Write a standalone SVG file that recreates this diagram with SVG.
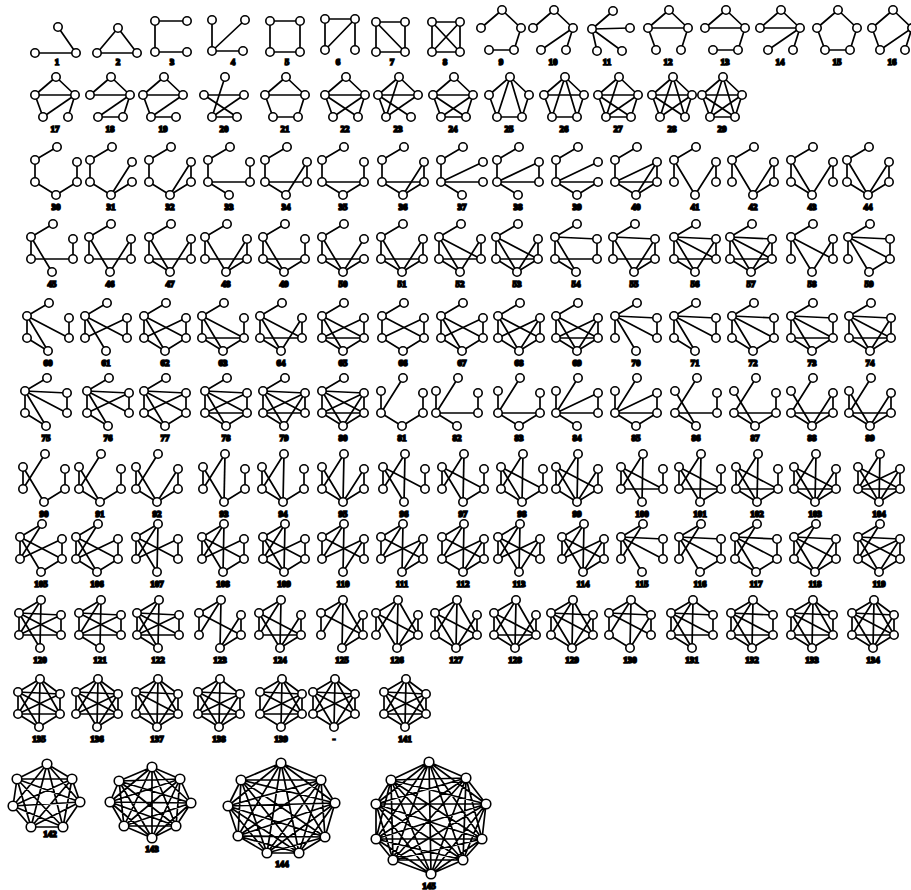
<svg xmlns="http://www.w3.org/2000/svg" xmlns:xlink="http://www.w3.org/1999/xlink" width="911" height="890" viewBox="0 0 911 890">
<style>
.e{stroke:#000;stroke-width:1.7;stroke-linecap:round;stroke-linejoin:round;fill:none}
.v{fill:#fff;stroke:#000;stroke-width:1.6}
text{font-family:"Liberation Serif",serif;font-size:9px;font-weight:bold;text-anchor:middle;fill:#000}
</style>
<rect width="911" height="890" fill="#fff"/>
<defs>
<path id="ta" d="M1 -60L-21 -47"/><path id="tb" d="M1 -60L21 -45"/><path id="tc" d="M1 -60L-21 -25"/><path id="td" d="M1 -60L21 -25"/><path id="te" d="M1 -60L0 -12"/>
<path id="ab" d="M-21 -47L21 -45"/><path id="ac" d="M-21 -47L-21 -25"/><path id="ad" d="M-21 -47L21 -25"/><path id="ae" d="M-21 -47L0 -12"/>
<path id="bc" d="M21 -45L-21 -25"/><path id="bd" d="M21 -45L21 -25"/><path id="be" d="M21 -45L0 -12"/>
<path id="cd" d="M-21 -25L21 -25"/><path id="ce" d="M-21 -25L0 -12"/><path id="de" d="M21 -25L0 -12"/>
<path id="ftl" d="M1 -52L-20 -34"/><path id="ftr" d="M1 -52L20 -34"/><path id="ftp" d="M1 -52L-12 -12"/><path id="ftq" d="M1 -52L13 -12"/>
<path id="flr" d="M-20 -34L20 -34"/><path id="flp" d="M-20 -34L-12 -12"/><path id="flq" d="M-20 -34L13 -12"/>
<path id="frp" d="M20 -34L-12 -12"/><path id="frq" d="M20 -34L13 -12"/><path id="fpq" d="M-12 -12L13 -12"/>
<g id="n6"><circle cx="1" cy="-60" r="4.2"/><circle cx="-21" cy="-47" r="4.2"/><circle cx="21" cy="-45" r="4.2"/><circle cx="-21" cy="-25" r="4.2"/><circle cx="21" cy="-25" r="4.2"/><circle cx="0" cy="-12" r="4.2"/></g>
<g id="n5"><circle cx="1" cy="-52" r="4.2"/><circle cx="-20" cy="-34" r="4.2"/><circle cx="20" cy="-34" r="4.2"/><circle cx="-12" cy="-12" r="4.2"/><circle cx="13" cy="-12" r="4.2"/></g>
</defs>

<g id="connectors" class="e">
<path d="M35 53L76 53M58 27L76 53"/>
<path d="M97 53L118 28L137 53Z"/>
<path d="M187 21L155 21L155 52L187 52"/>
<path d="M212 20L212 51L245 20M212 51L243 51"/>
<path d="M270 21L300 21L300 52L270 52Z"/>
<path d="M325 50L325 19L355 19L325 50M355 19L355 50"/>
<path d="M376 22L405 22L405 52L376 52ZM376 22L405 52"/>
<path d="M432 22L460 22L460 52L432 52ZM432 22L460 52M460 22L432 52"/>
<path d="M592 29L613 11M592 29L630 28M592 29L597 51M592 29L622 51"/>
<g transform="translate(501 62)"><use href="#ftl"/><use href="#ftr"/><use href="#frq"/><use href="#fpq"/></g>
<g transform="translate(553 62)"><use href="#ftl"/><use href="#ftr"/><use href="#frp"/><use href="#frq"/></g>
<g transform="translate(668 62)"><use href="#ftl"/><use href="#ftr"/><use href="#flr"/><use href="#flp"/><use href="#frq"/></g>
<g transform="translate(725 62)"><use href="#ftl"/><use href="#ftr"/><use href="#flr"/><use href="#frq"/><use href="#fpq"/></g>
<g transform="translate(780 62)"><use href="#ftl"/><use href="#ftr"/><use href="#flr"/><use href="#frp"/><use href="#frq"/></g>
<g transform="translate(837 62)"><use href="#ftl"/><use href="#ftr"/><use href="#flp"/><use href="#frq"/><use href="#fpq"/></g>
<g transform="translate(892 62)"><use href="#ftl"/><use href="#ftr"/><use href="#flp"/><use href="#frp"/><use href="#frq"/></g>
<g transform="translate(55 129)"><use href="#ftl"/><use href="#ftr"/><use href="#flr"/><use href="#flp"/><use href="#frp"/><use href="#frq"/></g>
<g transform="translate(110 129)"><use href="#ftl"/><use href="#ftr"/><use href="#flr"/><use href="#frp"/><use href="#frq"/><use href="#fpq"/></g>
<g transform="translate(163 129)"><use href="#ftl"/><use href="#ftr"/><use href="#flr"/><use href="#flp"/><use href="#frp"/><use href="#fpq"/></g>
<g transform="translate(224 129)"><use href="#ftp"/><use href="#flr"/><use href="#flq"/><use href="#frp"/><use href="#fpq"/></g>
<g transform="translate(285 129)"><use href="#ftl"/><use href="#ftr"/><use href="#flr"/><use href="#flp"/><use href="#frq"/><use href="#fpq"/></g>
<g transform="translate(345 129)"><use href="#ftl"/><use href="#ftr"/><use href="#flr"/><use href="#flp"/><use href="#flq"/><use href="#frp"/><use href="#frq"/></g>
<g transform="translate(398 129)"><use href="#ftl"/><use href="#ftr"/><use href="#flr"/><use href="#flq"/><use href="#frp"/><use href="#ftp"/><use href="#flp"/></g>
<g transform="translate(453 129)"><use href="#ftl"/><use href="#ftr"/><use href="#flr"/><use href="#flp"/><use href="#flq"/><use href="#frp"/><use href="#frq"/><use href="#fpq"/></g>
<g transform="translate(509 129)"><use href="#ftl"/><use href="#ftr"/><use href="#ftp"/><use href="#ftq"/><use href="#flp"/><use href="#frq"/><use href="#fpq"/></g>
<g transform="translate(564 129)"><use href="#ftl"/><use href="#ftr"/><use href="#flr"/><use href="#flp"/><use href="#frq"/><use href="#fpq"/><use href="#ftp"/><use href="#ftq"/></g>
<g transform="translate(618 129)"><use href="#ftl"/><use href="#ftr"/><use href="#flr"/><use href="#flp"/><use href="#frq"/><use href="#fpq"/><use href="#flq"/><use href="#frp"/><use href="#ftp"/></g>
<g transform="translate(672 129)"><use href="#ftl"/><use href="#ftr"/><use href="#flr"/><use href="#flp"/><use href="#frq"/><use href="#flq"/><use href="#frp"/><use href="#ftp"/><use href="#ftq"/></g>
<g transform="translate(722 129)"><use href="#ftl"/><use href="#ftr"/><use href="#ftp"/><use href="#ftq"/><use href="#flr"/><use href="#flp"/><use href="#flq"/><use href="#frp"/><use href="#frq"/><use href="#fpq"/></g>

<g transform="translate(56 207)"><use href="#ta"/><use href="#ac"/><use href="#ce"/><use href="#de"/><use href="#bd"/></g>
<g transform="translate(111 207)"><use href="#ta"/><use href="#ac"/><use href="#ce"/><use href="#be"/><use href="#de"/></g>
<g transform="translate(170 207)"><use href="#ta"/><use href="#ac"/><use href="#ce"/><use href="#be"/><use href="#bd"/><use href="#de"/></g>
<g transform="translate(229 207)"><use href="#ta"/><use href="#ac"/><use href="#cd"/><use href="#ce"/><use href="#bd"/></g>
<g transform="translate(286 207)"><use href="#ta"/><use href="#ac"/><use href="#cd"/><use href="#ce"/><use href="#be"/><use href="#bd"/></g>
<g transform="translate(343 207)"><use href="#ta"/><use href="#ac"/><use href="#cd"/><use href="#ce"/><use href="#de"/><use href="#bd"/></g>
<g transform="translate(403 207)"><use href="#ta"/><use href="#ac"/><use href="#cd"/><use href="#ce"/><use href="#de"/><use href="#be"/><use href="#bd"/></g>
<g transform="translate(462 207)"><use href="#ta"/><use href="#ac"/><use href="#bc"/><use href="#cd"/><use href="#ce"/></g>
<g transform="translate(518 207)"><use href="#ta"/><use href="#ac"/><use href="#bc"/><use href="#cd"/><use href="#ce"/><use href="#bd"/></g>
<g transform="translate(577 207)"><use href="#ta"/><use href="#ac"/><use href="#bc"/><use href="#cd"/><use href="#ce"/><use href="#de"/></g>
<g transform="translate(636 207)"><use href="#ta"/><use href="#ac"/><use href="#bc"/><use href="#cd"/><use href="#ce"/><use href="#de"/><use href="#be"/><use href="#bd"/></g>
<g transform="translate(695 207)"><use href="#ta"/><use href="#ac"/><use href="#ae"/><use href="#be"/><use href="#bd"/></g>
<g transform="translate(753 207)"><use href="#ta"/><use href="#ac"/><use href="#ae"/><use href="#be"/><use href="#bd"/><use href="#de"/></g>
<g transform="translate(812 207)"><use href="#ta"/><use href="#ac"/><use href="#ae"/><use href="#ce"/><use href="#be"/><use href="#bd"/></g>
<g transform="translate(868 207)"><use href="#ta"/><use href="#ac"/><use href="#ae"/><use href="#ce"/><use href="#be"/><use href="#bd"/><use href="#de"/></g>

<g transform="translate(52 284)"><use href="#ta"/><use href="#ac"/><use href="#ae"/><use href="#cd"/><use href="#bd"/></g>
<g transform="translate(110 284)"><use href="#ta"/><use href="#ac"/><use href="#ae"/><use href="#cd"/><use href="#be"/><use href="#bd"/></g>
<g transform="translate(170 284)"><use href="#ta"/><use href="#ac"/><use href="#ae"/><use href="#cd"/><use href="#be"/><use href="#bd"/><use href="#ce"/></g>
<g transform="translate(226 284)"><use href="#ta"/><use href="#ac"/><use href="#ae"/><use href="#cd"/><use href="#be"/><use href="#bd"/><use href="#de"/></g>
<g transform="translate(284 284)"><use href="#ta"/><use href="#ac"/><use href="#ae"/><use href="#cd"/><use href="#ce"/><use href="#de"/><use href="#bd"/></g>
<g transform="translate(343 284)"><use href="#ta"/><use href="#ac"/><use href="#ae"/><use href="#cd"/><use href="#ce"/><use href="#de"/><use href="#be"/></g>
<g transform="translate(402 284)"><use href="#ta"/><use href="#ac"/><use href="#ae"/><use href="#cd"/><use href="#ce"/><use href="#de"/><use href="#be"/><use href="#bd"/></g>
<g transform="translate(460 284)"><use href="#ta"/><use href="#ac"/><use href="#ae"/><use href="#ad"/><use href="#cd"/><use href="#be"/><use href="#bd"/><use href="#ce"/></g>
<g transform="translate(517 284)"><use href="#ta"/><use href="#ac"/><use href="#ae"/><use href="#ad"/><use href="#cd"/><use href="#be"/><use href="#bd"/><use href="#ce"/><use href="#de"/></g>
<g transform="translate(576 284)"><use href="#ta"/><use href="#ac"/><use href="#ab"/><use href="#ae"/><use href="#cd"/><use href="#ce"/><use href="#bd"/></g>
<g transform="translate(634 284)"><use href="#ta"/><use href="#ac"/><use href="#ab"/><use href="#ae"/><use href="#cd"/><use href="#de"/><use href="#bd"/><use href="#be"/></g>
<g transform="translate(695 284)"><use href="#ta"/><use href="#ac"/><use href="#ab"/><use href="#ae"/><use href="#ad"/><use href="#cd"/><use href="#ce"/><use href="#bd"/><use href="#be"/></g>
<g transform="translate(751 284)"><use href="#ta"/><use href="#ac"/><use href="#ab"/><use href="#ae"/><use href="#ad"/><use href="#cd"/><use href="#ce"/><use href="#de"/><use href="#bd"/><use href="#be"/></g>
<g transform="translate(812 284)"><use href="#ta"/><use href="#ae"/><use href="#ad"/><use href="#bd"/><use href="#be"/><use href="#ac"/></g>
<g transform="translate(869 284)"><use href="#ta"/><use href="#ae"/><use href="#ad"/><use href="#ab"/><use href="#bd"/><use href="#de"/><use href="#ac"/></g>

<g transform="translate(48 363)"><use href="#ta"/><use href="#ac"/><use href="#ae"/><use href="#ad"/><use href="#bd"/><use href="#ce"/></g>
<g transform="translate(106 363)"><use href="#ta"/><use href="#ac"/><use href="#ae"/><use href="#ad"/><use href="#bc"/><use href="#bd"/></g>
<g transform="translate(165 363)"><use href="#ta"/><use href="#ac"/><use href="#ae"/><use href="#ad"/><use href="#bc"/><use href="#bd"/><use href="#ce"/><use href="#de"/></g>
<g transform="translate(223 363)"><use href="#ta"/><use href="#ac"/><use href="#ae"/><use href="#ad"/><use href="#cd"/><use href="#ce"/><use href="#de"/><use href="#bd"/></g>
<g transform="translate(281 363)"><use href="#ta"/><use href="#ac"/><use href="#ae"/><use href="#ad"/><use href="#cd"/><use href="#ce"/><use href="#bd"/><use href="#be"/></g>
<g transform="translate(343 363)"><use href="#ta"/><use href="#ac"/><use href="#ae"/><use href="#ad"/><use href="#cd"/><use href="#bc"/><use href="#bd"/><use href="#ce"/><use href="#de"/></g>
<g transform="translate(403 363)"><use href="#ta"/><use href="#ac"/><use href="#ad"/><use href="#bc"/><use href="#ce"/><use href="#de"/><use href="#bd"/></g>
<g transform="translate(462 363)"><use href="#ta"/><use href="#ac"/><use href="#ad"/><use href="#bc"/><use href="#ce"/><use href="#de"/><use href="#bd"/><use href="#ae"/></g>
<g transform="translate(519 363)"><use href="#ta"/><use href="#ac"/><use href="#ad"/><use href="#ae"/><use href="#bc"/><use href="#be"/><use href="#ce"/><use href="#de"/><use href="#bd"/></g>
<g transform="translate(577 363)"><use href="#ta"/><use href="#ac"/><use href="#ad"/><use href="#ae"/><use href="#bc"/><use href="#be"/><use href="#ce"/><use href="#de"/><use href="#bd"/><use href="#cd"/></g>
<g transform="translate(636 363)"><use href="#ta"/><use href="#ab"/><use href="#ac"/><use href="#ad"/><use href="#ae"/><use href="#bd"/></g>
<g transform="translate(695 363)"><use href="#ta"/><use href="#ab"/><use href="#ac"/><use href="#ad"/><use href="#ae"/><use href="#bd"/><use href="#ce"/></g>
<g transform="translate(753 363)"><use href="#ta"/><use href="#ab"/><use href="#ac"/><use href="#ad"/><use href="#ae"/><use href="#bd"/><use href="#ce"/><use href="#de"/></g>
<g transform="translate(812 363)"><use href="#ta"/><use href="#ab"/><use href="#ac"/><use href="#ad"/><use href="#ae"/><use href="#bd"/><use href="#de"/><use href="#ce"/><use href="#cd"/></g>
<g transform="translate(870 363)"><use href="#ta"/><use href="#ab"/><use href="#ac"/><use href="#ad"/><use href="#ae"/><use href="#bd"/><use href="#ce"/><use href="#de"/><use href="#cd"/><use href="#be"/></g>

<g transform="translate(46 438)"><use href="#ta"/><use href="#ab"/><use href="#ac"/><use href="#ad"/><use href="#ae"/><use href="#bd"/><use href="#ce"/></g>
<g transform="translate(108 438)"><use href="#ta"/><use href="#ab"/><use href="#ac"/><use href="#ad"/><use href="#ae"/><use href="#bd"/><use href="#bc"/><use href="#ce"/></g>
<g transform="translate(165 438)"><use href="#ta"/><use href="#ab"/><use href="#ac"/><use href="#ad"/><use href="#ae"/><use href="#bd"/><use href="#bc"/><use href="#ce"/><use href="#de"/></g>
<g transform="translate(226 438)"><use href="#ta"/><use href="#ab"/><use href="#ac"/><use href="#ad"/><use href="#ae"/><use href="#bd"/><use href="#bc"/><use href="#cd"/><use href="#ce"/><use href="#de"/></g>
<g transform="translate(284 438)"><use href="#ta"/><use href="#ab"/><use href="#ac"/><use href="#ad"/><use href="#ae"/><use href="#bd"/><use href="#bc"/><use href="#cd"/><use href="#ce"/><use href="#be"/></g>
<g transform="translate(343 438)"><use href="#ta"/><use href="#ab"/><use href="#ac"/><use href="#ad"/><use href="#ae"/><use href="#bd"/><use href="#bc"/><use href="#cd"/><use href="#ce"/><use href="#de"/><use href="#be"/></g>
<g transform="translate(402 438)"><use href="#tc"/><use href="#ac"/><use href="#ce"/><use href="#bd"/><use href="#de"/></g>
<g transform="translate(457 438)"><use href="#tc"/><use href="#ac"/><use href="#cd"/><use href="#ce"/><use href="#bd"/></g>
<g transform="translate(519 438)"><use href="#tc"/><use href="#ac"/><use href="#cd"/><use href="#ce"/><use href="#bd"/><use href="#de"/></g>
<g transform="translate(577 438)"><use href="#tc"/><use href="#ac"/><use href="#cd"/><use href="#ce"/><use href="#bd"/><use href="#bc"/></g>
<g transform="translate(636 438)"><use href="#tc"/><use href="#ac"/><use href="#cd"/><use href="#ce"/><use href="#bd"/><use href="#bc"/><use href="#de"/></g>
<g transform="translate(696 438)"><use href="#tc"/><use href="#ae"/><use href="#cd"/><use href="#bd"/><use href="#ce"/></g>
<g transform="translate(755 438)"><use href="#tc"/><use href="#ae"/><use href="#cd"/><use href="#bd"/><use href="#ce"/><use href="#de"/></g>
<g transform="translate(812 438)"><use href="#tc"/><use href="#ae"/><use href="#cd"/><use href="#bd"/><use href="#ce"/><use href="#de"/><use href="#be"/></g>
<g transform="translate(870 438)"><use href="#tc"/><use href="#ae"/><use href="#ac"/><use href="#cd"/><use href="#bd"/><use href="#ce"/><use href="#de"/><use href="#be"/></g>

<g transform="translate(44 514)"><use href="#tc"/><use href="#ae"/><use href="#ac"/><use href="#bd"/><use href="#de"/></g>
<g transform="translate(100 514)"><use href="#tc"/><use href="#ae"/><use href="#ac"/><use href="#bd"/><use href="#de"/><use href="#ce"/></g>
<g transform="translate(157 514)"><use href="#tc"/><use href="#ae"/><use href="#ac"/><use href="#bd"/><use href="#de"/><use href="#ce"/><use href="#be"/></g>
<g transform="translate(224 514)"><use href="#tc"/><use href="#te"/><use href="#ae"/><use href="#ac"/><use href="#bd"/><use href="#de"/></g>
<g transform="translate(283 514)"><use href="#tc"/><use href="#te"/><use href="#ae"/><use href="#ac"/><use href="#bd"/><use href="#de"/><use href="#ce"/></g>
<g transform="translate(343 514)"><use href="#tc"/><use href="#te"/><use href="#ae"/><use href="#ac"/><use href="#bd"/><use href="#de"/><use href="#ce"/><use href="#be"/></g>
<g transform="translate(404 514)"><use href="#tc"/><use href="#te"/><use href="#ae"/><use href="#ac"/><use href="#ad"/><use href="#bd"/></g>
<g transform="translate(463 514)"><use href="#tc"/><use href="#te"/><use href="#ae"/><use href="#ac"/><use href="#ad"/><use href="#bd"/><use href="#de"/></g>
<g transform="translate(522 514)"><use href="#tc"/><use href="#te"/><use href="#ae"/><use href="#ac"/><use href="#ad"/><use href="#bd"/><use href="#de"/><use href="#ce"/></g>
<g transform="translate(577 514)"><use href="#tc"/><use href="#te"/><use href="#ae"/><use href="#ac"/><use href="#ad"/><use href="#bd"/><use href="#de"/><use href="#ce"/><use href="#be"/></g>
<g transform="translate(642 514)"><use href="#tc"/><use href="#te"/><use href="#ae"/><use href="#ac"/><use href="#ad"/><use href="#bd"/><use href="#cd"/></g>
<g transform="translate(700 514)"><use href="#tc"/><use href="#te"/><use href="#ae"/><use href="#ac"/><use href="#ad"/><use href="#bd"/><use href="#cd"/><use href="#de"/></g>
<g transform="translate(757 514)"><use href="#tc"/><use href="#te"/><use href="#ae"/><use href="#ac"/><use href="#ad"/><use href="#bd"/><use href="#cd"/><use href="#de"/><use href="#ce"/></g>
<g transform="translate(815 514)"><use href="#tc"/><use href="#te"/><use href="#ae"/><use href="#ac"/><use href="#ad"/><use href="#bd"/><use href="#cd"/><use href="#de"/><use href="#ce"/><use href="#be"/></g>
<g transform="translate(879 514)"><use href="#tc"/><use href="#te"/><use href="#ae"/><use href="#ac"/><use href="#ad"/><use href="#bd"/><use href="#cd"/><use href="#de"/><use href="#ce"/><use href="#be"/><use href="#bc"/></g>

<g transform="translate(41 584)"><use href="#ta"/><use href="#tc"/><use href="#ac"/><use href="#ae"/><use href="#ad"/><use href="#bd"/><use href="#bc"/><use href="#de"/></g>
<g transform="translate(97 584)"><use href="#ta"/><use href="#tc"/><use href="#ac"/><use href="#ae"/><use href="#ad"/><use href="#bd"/><use href="#bc"/><use href="#de"/><use href="#ce"/></g>
<g transform="translate(157 584)"><use href="#ta"/><use href="#tc"/><use href="#te"/><use href="#ac"/><use href="#ae"/><use href="#ad"/><use href="#bd"/><use href="#bc"/></g>
<g transform="translate(223 584)"><use href="#ta"/><use href="#tc"/><use href="#te"/><use href="#ac"/><use href="#ae"/><use href="#ad"/><use href="#bd"/><use href="#bc"/><use href="#de"/></g>
<g transform="translate(284 584)"><use href="#ta"/><use href="#tc"/><use href="#te"/><use href="#ac"/><use href="#ae"/><use href="#ad"/><use href="#bd"/><use href="#bc"/><use href="#de"/><use href="#ce"/></g>
<g transform="translate(343 584)"><use href="#ta"/><use href="#tc"/><use href="#te"/><use href="#ac"/><use href="#ad"/><use href="#bc"/><use href="#bd"/><use href="#be"/></g>
<g transform="translate(402 584)"><use href="#ta"/><use href="#tc"/><use href="#te"/><use href="#ac"/><use href="#ad"/><use href="#bc"/><use href="#bd"/><use href="#be"/><use href="#de"/></g>
<g transform="translate(463 584)"><use href="#ta"/><use href="#tc"/><use href="#te"/><use href="#ac"/><use href="#ad"/><use href="#bc"/><use href="#bd"/><use href="#be"/><use href="#de"/><use href="#ce"/></g>
<g transform="translate(519 584)"><use href="#ta"/><use href="#tc"/><use href="#te"/><use href="#ac"/><use href="#ae"/><use href="#ad"/><use href="#bc"/><use href="#bd"/><use href="#be"/></g>
<g transform="translate(583 584)"><use href="#ta"/><use href="#tc"/><use href="#te"/><use href="#ac"/><use href="#ae"/><use href="#ad"/><use href="#bc"/><use href="#bd"/><use href="#be"/><use href="#de"/></g>
<g transform="translate(642 584)"><use href="#ta"/><use href="#tc"/><use href="#ab"/><use href="#ac"/><use href="#ad"/><use href="#ae"/><use href="#bd"/></g>
<g transform="translate(700 584)"><use href="#ta"/><use href="#tc"/><use href="#ab"/><use href="#ac"/><use href="#ad"/><use href="#ae"/><use href="#bd"/><use href="#de"/></g>
<g transform="translate(756 584)"><use href="#ta"/><use href="#tc"/><use href="#ab"/><use href="#ac"/><use href="#ad"/><use href="#ae"/><use href="#bd"/><use href="#de"/><use href="#ce"/></g>
<g transform="translate(815 584)"><use href="#ta"/><use href="#tc"/><use href="#ab"/><use href="#ac"/><use href="#ad"/><use href="#ae"/><use href="#bd"/><use href="#de"/><use href="#ce"/><use href="#be"/></g>
<g transform="translate(879 584)"><use href="#ta"/><use href="#tc"/><use href="#ab"/><use href="#ac"/><use href="#ad"/><use href="#ae"/><use href="#bd"/><use href="#de"/><use href="#ce"/><use href="#be"/><use href="#bc"/></g>

<g transform="translate(40 660)"><use href="#ta"/><use href="#tc"/><use href="#te"/><use href="#ab"/><use href="#ac"/><use href="#ad"/><use href="#ae"/><use href="#bc"/><use href="#bd"/><use href="#cd"/></g>
<g transform="translate(100 660)"><use href="#ta"/><use href="#tc"/><use href="#te"/><use href="#ab"/><use href="#ac"/><use href="#ad"/><use href="#bc"/><use href="#bd"/><use href="#cd"/><use href="#ce"/></g>
<g transform="translate(158 660)"><use href="#ta"/><use href="#tc"/><use href="#te"/><use href="#ab"/><use href="#ac"/><use href="#ad"/><use href="#ae"/><use href="#bc"/><use href="#bd"/><use href="#cd"/><use href="#ce"/></g>
<g transform="translate(220 660)"><use href="#ta"/><use href="#tc"/><use href="#te"/><use href="#ac"/><use href="#ad"/><use href="#bd"/><use href="#be"/><use href="#de"/></g>
<g transform="translate(280 660)"><use href="#ta"/><use href="#tc"/><use href="#te"/><use href="#ac"/><use href="#ad"/><use href="#ae"/><use href="#bd"/><use href="#be"/><use href="#de"/><use href="#cd"/></g>
<g transform="translate(342 660)"><use href="#ta"/><use href="#tc"/><use href="#te"/><use href="#td"/><use href="#ac"/><use href="#ad"/><use href="#bd"/><use href="#be"/><use href="#de"/></g>
<g transform="translate(397 660)"><use href="#ta"/><use href="#tc"/><use href="#te"/><use href="#td"/><use href="#ac"/><use href="#ad"/><use href="#ae"/><use href="#bd"/><use href="#be"/><use href="#de"/></g>
<g transform="translate(456 660)"><use href="#ta"/><use href="#tc"/><use href="#te"/><use href="#td"/><use href="#ac"/><use href="#ad"/><use href="#ae"/><use href="#bd"/><use href="#be"/><use href="#de"/><use href="#ce"/></g>
<g transform="translate(515 660)"><use href="#ta"/><use href="#tc"/><use href="#te"/><use href="#td"/><use href="#ac"/><use href="#ad"/><use href="#ae"/><use href="#bd"/><use href="#be"/><use href="#de"/><use href="#ce"/><use href="#cd"/></g>
<g transform="translate(572 660)"><use href="#ta"/><use href="#tc"/><use href="#te"/><use href="#td"/><use href="#ab"/><use href="#ac"/><use href="#ad"/><use href="#ae"/><use href="#bd"/><use href="#be"/><use href="#de"/><use href="#ce"/></g>
<g transform="translate(630 660)"><use href="#ta"/><use href="#tb"/><use href="#tc"/><use href="#te"/><use href="#ab"/><use href="#ac"/><use href="#ad"/><use href="#bd"/><use href="#be"/><use href="#ce"/></g>
<g transform="translate(692 660)"><use href="#ta"/><use href="#tb"/><use href="#tc"/><use href="#te"/><use href="#ab"/><use href="#ac"/><use href="#ad"/><use href="#ae"/><use href="#bd"/><use href="#cd"/><use href="#ce"/></g>
<g transform="translate(752 660)"><use href="#ta"/><use href="#tb"/><use href="#tc"/><use href="#te"/><use href="#ab"/><use href="#ac"/><use href="#ad"/><use href="#ae"/><use href="#bd"/><use href="#cd"/><use href="#ce"/><use href="#de"/></g>
<g transform="translate(812 660)"><use href="#ta"/><use href="#tb"/><use href="#tc"/><use href="#td"/><use href="#te"/><use href="#ab"/><use href="#ac"/><use href="#ad"/><use href="#ae"/><use href="#bd"/><use href="#cd"/><use href="#ce"/><use href="#de"/></g>
<g transform="translate(873 660)"><use href="#ta"/><use href="#tb"/><use href="#tc"/><use href="#td"/><use href="#te"/><use href="#ab"/><use href="#ac"/><use href="#ad"/><use href="#ae"/><use href="#bd"/><use href="#be"/><use href="#cd"/><use href="#ce"/><use href="#de"/></g>

<g transform="translate(39 739)"><use href="#ta"/><use href="#tb"/><use href="#tc"/><use href="#td"/><use href="#te"/><use href="#ab"/><use href="#ac"/><use href="#ad"/><use href="#ae"/><use href="#bc"/><use href="#bd"/><use href="#cd"/><use href="#ce"/><use href="#de"/></g>
<g transform="translate(97 739)"><use href="#ta"/><use href="#tb"/><use href="#tc"/><use href="#td"/><use href="#te"/><use href="#ab"/><use href="#ac"/><use href="#ad"/><use href="#ae"/><use href="#bc"/><use href="#bd"/><use href="#be"/><use href="#cd"/><use href="#de"/></g>
<g transform="translate(157 739)"><use href="#ta"/><use href="#tb"/><use href="#tc"/><use href="#td"/><use href="#te"/><use href="#ab"/><use href="#ac"/><use href="#ad"/><use href="#ae"/><use href="#bd"/><use href="#be"/><use href="#cd"/><use href="#ce"/><use href="#de"/></g>
<g transform="translate(219 739)"><use href="#ta"/><use href="#tb"/><use href="#tc"/><use href="#te"/><use href="#ab"/><use href="#ac"/><use href="#ad"/><use href="#ae"/><use href="#bc"/><use href="#bd"/><use href="#be"/><use href="#cd"/><use href="#ce"/><use href="#de"/></g>
<g transform="translate(281 739)"><use href="#ta"/><use href="#tb"/><use href="#tc"/><use href="#td"/><use href="#te"/><use href="#ab"/><use href="#ac"/><use href="#ad"/><use href="#bc"/><use href="#bd"/><use href="#be"/><use href="#cd"/><use href="#ce"/><use href="#de"/></g>
<g transform="translate(334 739)"><use href="#ta"/><use href="#tb"/><use href="#tc"/><use href="#td"/><use href="#te"/><use href="#ab"/><use href="#ac"/><use href="#ad"/><use href="#ae"/><use href="#bc"/><use href="#bd"/><use href="#be"/><use href="#ce"/><use href="#de"/></g>
<g transform="translate(405 739)"><use href="#ta"/><use href="#tb"/><use href="#tc"/><use href="#td"/><use href="#te"/><use href="#ab"/><use href="#ac"/><use href="#ad"/><use href="#ae"/><use href="#bc"/><use href="#bd"/><use href="#be"/><use href="#cd"/><use href="#ce"/><use href="#de"/></g>

<path d="M47 764L72 779 47 764 80 802 47 764 63 827 47 764 31 827 47 764 13 806 47 764 17 779M72 779L80 802 72 779 63 827 72 779 31 827 72 779 13 806 72 779 17 779M80 802L63 827 80 802 31 827 80 802 13 806 80 802 17 779M63 827L31 827 63 827 13 806 63 827 17 779M31 827L13 806 31 827 17 779M13 806L17 779"/>
<path d="M152 767L180 779 152 767 191 803 152 767 176 826 152 767 152 838 152 767 124 826 152 767 110 802 152 767 119 781M180 779L191 803 180 779 176 826 180 779 152 838 180 779 124 826 180 779 110 802 180 779 119 781M191 803L176 826 191 803 152 838 191 803 124 826 191 803 110 802 191 803 119 781M176 826L152 838 176 826 124 826 176 826 110 802 176 826 119 781M152 838L124 826 152 838 110 802 152 838 119 781M124 826L110 802 124 826 119 781M110 802L119 781"/>
<path d="M281 763L321 780 281 763 335 803 281 763 325 837 281 763 299 853 281 763 267 853 281 763 238 836 281 763 228 806 281 763 241 780M321 780L335 803 321 780 325 837 321 780 299 853 321 780 267 853 321 780 238 836 321 780 228 806 321 780 241 780M335 803L325 837 335 803 299 853 335 803 267 853 335 803 238 836 335 803 228 806 335 803 241 780M325 837L299 853 325 837 267 853 325 837 238 836 325 837 228 806 325 837 241 780M299 853L267 853 299 853 238 836 299 853 228 806 299 853 241 780M267 853L238 836 267 853 228 806 267 853 241 780M238 836L228 806 238 836 241 780M228 806L241 780"/>
<path d="M429 762L466 778 429 762 486 804 429 762 482 839 429 762 463 860 429 762 431 874 429 762 393 860 429 762 376 839 429 762 376 804 429 762 391 780M466 778L486 804 466 778 482 839 466 778 463 860 466 778 431 874 466 778 393 860 466 778 376 839 466 778 376 804 466 778 391 780M486 804L482 839 486 804 463 860 486 804 431 874 486 804 393 860 486 804 376 839 486 804 376 804 486 804 391 780M482 839L463 860 482 839 431 874 482 839 393 860 482 839 376 839 482 839 376 804 482 839 391 780M463 860L431 874 463 860 393 860 463 860 376 839 463 860 376 804 463 860 391 780M431 874L393 860 431 874 376 839 431 874 376 804 431 874 391 780M393 860L376 839 393 860 376 804 393 860 391 780M376 839L376 804 376 839 391 780M376 804L391 780"/>
</g>

<g id="graphs" class="v">
<g id="g1"><circle cx="35" cy="53" r="4.2"/><circle cx="58" cy="27" r="4.2"/><circle cx="76" cy="53" r="4.2"/><text x="57" y="65">1</text></g>
<g id="g2"><circle cx="97" cy="53" r="4.2"/><circle cx="118" cy="28" r="4.2"/><circle cx="137" cy="53" r="4.2"/><text x="118" y="65">2</text></g>
<g id="g3"><circle cx="155" cy="21" r="4.2"/><circle cx="187" cy="21" r="4.2"/><circle cx="155" cy="52" r="4.2"/><circle cx="187" cy="52" r="4.2"/><text x="172" y="65">3</text></g>
<g id="g4"><circle cx="212" cy="20" r="4.2"/><circle cx="245" cy="20" r="4.2"/><circle cx="212" cy="51" r="4.2"/><circle cx="243" cy="51" r="4.2"/><text x="233" y="65">4</text></g>
<g id="g5"><circle cx="270" cy="21" r="4.2"/><circle cx="300" cy="21" r="4.2"/><circle cx="270" cy="52" r="4.2"/><circle cx="300" cy="52" r="4.2"/><text x="287" y="65">5</text></g>
<g id="g6"><circle cx="325" cy="19" r="4.2"/><circle cx="355" cy="19" r="4.2"/><circle cx="325" cy="50" r="4.2"/><circle cx="355" cy="50" r="4.2"/><text x="338" y="65">6</text></g>
<g id="g7"><circle cx="376" cy="22" r="4.2"/><circle cx="405" cy="22" r="4.2"/><circle cx="376" cy="52" r="4.2"/><circle cx="405" cy="52" r="4.2"/><text x="392" y="65">7</text></g>
<g id="g8"><circle cx="432" cy="22" r="4.2"/><circle cx="460" cy="22" r="4.2"/><circle cx="432" cy="52" r="4.2"/><circle cx="460" cy="52" r="4.2"/><text x="445" y="65">8</text></g>
<g id="g9" transform="translate(501 62)"><use href="#n5"/><text y="3">9</text></g>
<g id="g10" transform="translate(553 62)"><use href="#n5"/><text y="3">10</text></g>
<g id="g11"><circle cx="592" cy="29" r="4.2"/><circle cx="613" cy="11" r="4.2"/><circle cx="630" cy="28" r="4.2"/><circle cx="597" cy="51" r="4.2"/><circle cx="622" cy="51" r="4.2"/><text x="607" y="65">11</text></g>
<g id="g12" transform="translate(668 62)"><use href="#n5"/><text y="3">12</text></g>
<g id="g13" transform="translate(725 62)"><use href="#n5"/><text y="3">13</text></g>
<g id="g14" transform="translate(780 62)"><use href="#n5"/><text y="3">14</text></g>
<g id="g15" transform="translate(837 62)"><use href="#n5"/><text y="3">15</text></g>
<g id="g16" transform="translate(892 62)"><use href="#n5"/><text y="3">16</text></g>
<g id="g17" transform="translate(55 129)"><use href="#n5"/><text y="3">17</text></g>
<g id="g18" transform="translate(110 129)"><use href="#n5"/><text y="3">18</text></g>
<g id="g19" transform="translate(163 129)"><use href="#n5"/><text y="3">19</text></g>
<g id="g20" transform="translate(224 129)"><use href="#n5"/><text y="3">20</text></g>
<g id="g21" transform="translate(285 129)"><use href="#n5"/><text y="3">21</text></g>
<g id="g22" transform="translate(345 129)"><use href="#n5"/><text y="3">22</text></g>
<g id="g23" transform="translate(398 129)"><use href="#n5"/><text y="3">23</text></g>
<g id="g24" transform="translate(453 129)"><use href="#n5"/><text y="3">24</text></g>
<g id="g25" transform="translate(509 129)"><use href="#n5"/><text y="3">25</text></g>
<g id="g26" transform="translate(564 129)"><use href="#n5"/><text y="3">26</text></g>
<g id="g27" transform="translate(618 129)"><use href="#n5"/><text y="3">27</text></g>
<g id="g28" transform="translate(672 129)"><use href="#n5"/><text y="3">28</text></g>
<g id="g29" transform="translate(722 129)"><use href="#n5"/><text y="3">29</text></g>
<g id="g30" transform="translate(56 207)"><use href="#n6"/><text y="3">30</text></g>
<g id="g31" transform="translate(111 207)"><use href="#n6"/><text y="3">31</text></g>
<g id="g32" transform="translate(170 207)"><use href="#n6"/><text y="3">32</text></g>
<g id="g33" transform="translate(229 207)"><use href="#n6"/><text y="3">33</text></g>
<g id="g34" transform="translate(286 207)"><use href="#n6"/><text y="3">34</text></g>
<g id="g35" transform="translate(343 207)"><use href="#n6"/><text y="3">35</text></g>
<g id="g36" transform="translate(403 207)"><use href="#n6"/><text y="3">36</text></g>
<g id="g37" transform="translate(462 207)"><use href="#n6"/><text y="3">37</text></g>
<g id="g38" transform="translate(518 207)"><use href="#n6"/><text y="3">38</text></g>
<g id="g39" transform="translate(577 207)"><use href="#n6"/><text y="3">39</text></g>
<g id="g40" transform="translate(636 207)"><use href="#n6"/><text y="3">40</text></g>
<g id="g41" transform="translate(695 207)"><use href="#n6"/><text y="3">41</text></g>
<g id="g42" transform="translate(753 207)"><use href="#n6"/><text y="3">42</text></g>
<g id="g43" transform="translate(812 207)"><use href="#n6"/><text y="3">43</text></g>
<g id="g44" transform="translate(868 207)"><use href="#n6"/><text y="3">44</text></g>
<g id="g45" transform="translate(52 284)"><use href="#n6"/><text y="3">45</text></g>
<g id="g46" transform="translate(110 284)"><use href="#n6"/><text y="3">46</text></g>
<g id="g47" transform="translate(170 284)"><use href="#n6"/><text y="3">47</text></g>
<g id="g48" transform="translate(226 284)"><use href="#n6"/><text y="3">48</text></g>
<g id="g49" transform="translate(284 284)"><use href="#n6"/><text y="3">49</text></g>
<g id="g50" transform="translate(343 284)"><use href="#n6"/><text y="3">50</text></g>
<g id="g51" transform="translate(402 284)"><use href="#n6"/><text y="3">51</text></g>
<g id="g52" transform="translate(460 284)"><use href="#n6"/><text y="3">52</text></g>
<g id="g53" transform="translate(517 284)"><use href="#n6"/><text y="3">53</text></g>
<g id="g54" transform="translate(576 284)"><use href="#n6"/><text y="3">54</text></g>
<g id="g55" transform="translate(634 284)"><use href="#n6"/><text y="3">55</text></g>
<g id="g56" transform="translate(695 284)"><use href="#n6"/><text y="3">56</text></g>
<g id="g57" transform="translate(751 284)"><use href="#n6"/><text y="3">57</text></g>
<g id="g58" transform="translate(812 284)"><use href="#n6"/><text y="3">58</text></g>
<g id="g59" transform="translate(869 284)"><use href="#n6"/><text y="3">59</text></g>
<g id="g60" transform="translate(48 363)"><use href="#n6"/><text y="3">60</text></g>
<g id="g61" transform="translate(106 363)"><use href="#n6"/><text y="3">61</text></g>
<g id="g62" transform="translate(165 363)"><use href="#n6"/><text y="3">62</text></g>
<g id="g63" transform="translate(223 363)"><use href="#n6"/><text y="3">63</text></g>
<g id="g64" transform="translate(281 363)"><use href="#n6"/><text y="3">64</text></g>
<g id="g65" transform="translate(343 363)"><use href="#n6"/><text y="3">65</text></g>
<g id="g66" transform="translate(403 363)"><use href="#n6"/><text y="3">66</text></g>
<g id="g67" transform="translate(462 363)"><use href="#n6"/><text y="3">67</text></g>
<g id="g68" transform="translate(519 363)"><use href="#n6"/><text y="3">68</text></g>
<g id="g69" transform="translate(577 363)"><use href="#n6"/><text y="3">69</text></g>
<g id="g70" transform="translate(636 363)"><use href="#n6"/><text y="3">70</text></g>
<g id="g71" transform="translate(695 363)"><use href="#n6"/><text y="3">71</text></g>
<g id="g72" transform="translate(753 363)"><use href="#n6"/><text y="3">72</text></g>
<g id="g73" transform="translate(812 363)"><use href="#n6"/><text y="3">73</text></g>
<g id="g74" transform="translate(870 363)"><use href="#n6"/><text y="3">74</text></g>
<g id="g75" transform="translate(46 438)"><use href="#n6"/><text y="3">75</text></g>
<g id="g76" transform="translate(108 438)"><use href="#n6"/><text y="3">76</text></g>
<g id="g77" transform="translate(165 438)"><use href="#n6"/><text y="3">77</text></g>
<g id="g78" transform="translate(226 438)"><use href="#n6"/><text y="3">78</text></g>
<g id="g79" transform="translate(284 438)"><use href="#n6"/><text y="3">79</text></g>
<g id="g80" transform="translate(343 438)"><use href="#n6"/><text y="3">80</text></g>
<g id="g81" transform="translate(402 438)"><use href="#n6"/><text y="3">81</text></g>
<g id="g82" transform="translate(457 438)"><use href="#n6"/><text y="3">82</text></g>
<g id="g83" transform="translate(519 438)"><use href="#n6"/><text y="3">83</text></g>
<g id="g84" transform="translate(577 438)"><use href="#n6"/><text y="3">84</text></g>
<g id="g85" transform="translate(636 438)"><use href="#n6"/><text y="3">85</text></g>
<g id="g86" transform="translate(696 438)"><use href="#n6"/><text y="3">86</text></g>
<g id="g87" transform="translate(755 438)"><use href="#n6"/><text y="3">87</text></g>
<g id="g88" transform="translate(812 438)"><use href="#n6"/><text y="3">88</text></g>
<g id="g89" transform="translate(870 438)"><use href="#n6"/><text y="3">89</text></g>
<g id="g90" transform="translate(44 514)"><use href="#n6"/><text y="3">90</text></g>
<g id="g91" transform="translate(100 514)"><use href="#n6"/><text y="3">91</text></g>
<g id="g92" transform="translate(157 514)"><use href="#n6"/><text y="3">92</text></g>
<g id="g93" transform="translate(224 514)"><use href="#n6"/><text y="3">93</text></g>
<g id="g94" transform="translate(283 514)"><use href="#n6"/><text y="3">94</text></g>
<g id="g95" transform="translate(343 514)"><use href="#n6"/><text y="3">95</text></g>
<g id="g96" transform="translate(404 514)"><use href="#n6"/><text y="3">96</text></g>
<g id="g97" transform="translate(463 514)"><use href="#n6"/><text y="3">97</text></g>
<g id="g98" transform="translate(522 514)"><use href="#n6"/><text y="3">98</text></g>
<g id="g99" transform="translate(577 514)"><use href="#n6"/><text y="3">99</text></g>
<g id="g100" transform="translate(642 514)"><use href="#n6"/><text y="3">100</text></g>
<g id="g101" transform="translate(700 514)"><use href="#n6"/><text y="3">101</text></g>
<g id="g102" transform="translate(757 514)"><use href="#n6"/><text y="3">102</text></g>
<g id="g103" transform="translate(815 514)"><use href="#n6"/><text y="3">103</text></g>
<g id="g104" transform="translate(879 514)"><use href="#n6"/><text y="3">104</text></g>
<g id="g105" transform="translate(41 584)"><use href="#n6"/><text y="3">105</text></g>
<g id="g106" transform="translate(97 584)"><use href="#n6"/><text y="3">106</text></g>
<g id="g107" transform="translate(157 584)"><use href="#n6"/><text y="3">107</text></g>
<g id="g108" transform="translate(223 584)"><use href="#n6"/><text y="3">108</text></g>
<g id="g109" transform="translate(284 584)"><use href="#n6"/><text y="3">109</text></g>
<g id="g110" transform="translate(343 584)"><use href="#n6"/><text y="3">110</text></g>
<g id="g111" transform="translate(402 584)"><use href="#n6"/><text y="3">111</text></g>
<g id="g112" transform="translate(463 584)"><use href="#n6"/><text y="3">112</text></g>
<g id="g113" transform="translate(519 584)"><use href="#n6"/><text y="3">113</text></g>
<g id="g114" transform="translate(583 584)"><use href="#n6"/><text y="3">114</text></g>
<g id="g115" transform="translate(642 584)"><use href="#n6"/><text y="3">115</text></g>
<g id="g116" transform="translate(700 584)"><use href="#n6"/><text y="3">116</text></g>
<g id="g117" transform="translate(756 584)"><use href="#n6"/><text y="3">117</text></g>
<g id="g118" transform="translate(815 584)"><use href="#n6"/><text y="3">118</text></g>
<g id="g119" transform="translate(879 584)"><use href="#n6"/><text y="3">119</text></g>
<g id="g120" transform="translate(40 660)"><use href="#n6"/><text y="3">120</text></g>
<g id="g121" transform="translate(100 660)"><use href="#n6"/><text y="3">121</text></g>
<g id="g122" transform="translate(158 660)"><use href="#n6"/><text y="3">122</text></g>
<g id="g123" transform="translate(220 660)"><use href="#n6"/><text y="3">123</text></g>
<g id="g124" transform="translate(280 660)"><use href="#n6"/><text y="3">124</text></g>
<g id="g125" transform="translate(342 660)"><use href="#n6"/><text y="3">125</text></g>
<g id="g126" transform="translate(397 660)"><use href="#n6"/><text y="3">126</text></g>
<g id="g127" transform="translate(456 660)"><use href="#n6"/><text y="3">127</text></g>
<g id="g128" transform="translate(515 660)"><use href="#n6"/><text y="3">128</text></g>
<g id="g129" transform="translate(572 660)"><use href="#n6"/><text y="3">129</text></g>
<g id="g130" transform="translate(630 660)"><use href="#n6"/><text y="3">130</text></g>
<g id="g131" transform="translate(692 660)"><use href="#n6"/><text y="3">131</text></g>
<g id="g132" transform="translate(752 660)"><use href="#n6"/><text y="3">132</text></g>
<g id="g133" transform="translate(812 660)"><use href="#n6"/><text y="3">133</text></g>
<g id="g134" transform="translate(873 660)"><use href="#n6"/><text y="3">134</text></g>
<g id="g135" transform="translate(39 739)"><use href="#n6"/><text y="3">135</text></g>
<g id="g136" transform="translate(97 739)"><use href="#n6"/><text y="3">136</text></g>
<g id="g137" transform="translate(157 739)"><use href="#n6"/><text y="3">137</text></g>
<g id="g138" transform="translate(219 739)"><use href="#n6"/><text y="3">138</text></g>
<g id="g139" transform="translate(281 739)"><use href="#n6"/><text y="3">139</text></g>
<g id="g140" transform="translate(334 739)"><use href="#n6"/><text y="3">-</text></g>
<g id="g141" transform="translate(405 739)"><use href="#n6"/><text y="3">141</text></g>
<g id="g142"><circle cx="47" cy="764" r="4.8"/><circle cx="72" cy="779" r="4.8"/><circle cx="80" cy="802" r="4.8"/><circle cx="63" cy="827" r="4.8"/><circle cx="31" cy="827" r="4.8"/><circle cx="13" cy="806" r="4.8"/><circle cx="17" cy="779" r="4.8"/><text x="50" y="837">142</text></g>
<g id="g143"><circle cx="152" cy="767" r="4.8"/><circle cx="180" cy="779" r="4.8"/><circle cx="191" cy="803" r="4.8"/><circle cx="176" cy="826" r="4.8"/><circle cx="152" cy="838" r="4.8"/><circle cx="124" cy="826" r="4.8"/><circle cx="110" cy="802" r="4.8"/><circle cx="119" cy="781" r="4.8"/><text x="152" y="852">143</text></g>
<g id="g144"><circle cx="281" cy="763" r="4.8"/><circle cx="321" cy="780" r="4.8"/><circle cx="335" cy="803" r="4.8"/><circle cx="325" cy="837" r="4.8"/><circle cx="299" cy="853" r="4.8"/><circle cx="267" cy="853" r="4.8"/><circle cx="238" cy="836" r="4.8"/><circle cx="228" cy="806" r="4.8"/><circle cx="241" cy="780" r="4.8"/><text x="282" y="867">144</text></g>
<g id="g145"><circle cx="429" cy="762" r="4.8"/><circle cx="466" cy="778" r="4.8"/><circle cx="486" cy="804" r="4.8"/><circle cx="482" cy="839" r="4.8"/><circle cx="463" cy="860" r="4.8"/><circle cx="431" cy="874" r="4.8"/><circle cx="393" cy="860" r="4.8"/><circle cx="376" cy="839" r="4.8"/><circle cx="376" cy="804" r="4.8"/><circle cx="391" cy="780" r="4.8"/><text x="429" y="889">145</text></g>
</g>
</svg>
